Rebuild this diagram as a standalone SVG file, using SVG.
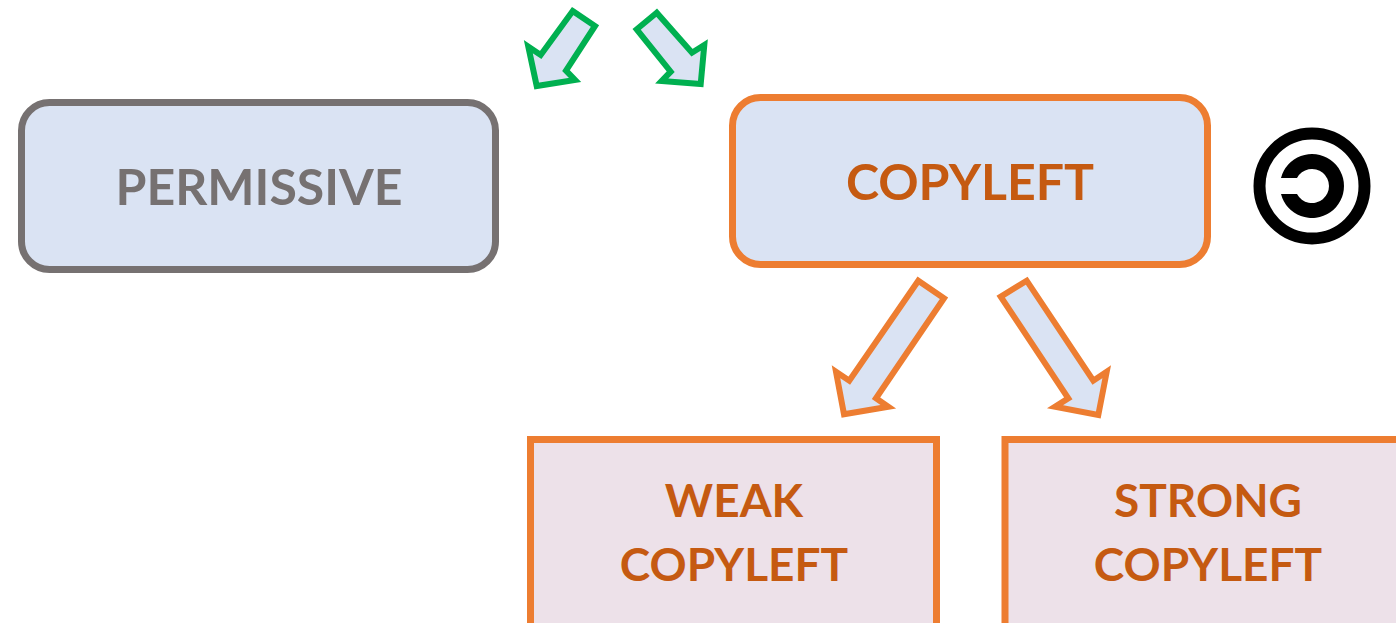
<svg xmlns="http://www.w3.org/2000/svg" width="1396" height="623" viewBox="0 0 1396 623">
<style>
.t{font-family:"Lato","Carlito","Liberation Sans",sans-serif;font-weight:700;text-anchor:middle}
.o{fill:#DAE3F3;stroke:#ED7D31;stroke-width:7}
.a{stroke-width:6;stroke-miterlimit:10;fill:#DAE3F3}
.g{stroke:#00B050}
.r{stroke:#ED7D31}
.w{fill:#EDE1E9;stroke:#ED7D31;stroke-width:7}
.c{fill:#C55A11}
</style>
<rect width="1396" height="623" fill="#fff"/>
<g id="connectors">
<polygon class="a g" points="572.7,11 595,26 566,70.7 575,80 536.7,86 528.3,46.7 540.7,55"/>
<polygon class="a g" points="656.7,12.7 636.7,29.3 670.7,71.7 661.7,81 700.7,84 704.3,45 692,52.7"/>
<polygon class="a r" points="918.3,280.7 944,298.3 876,398.3 888.3,406.7 844,414.3 836,371.7 849.3,380.7"/>
<polygon class="a r" points="1026.7,280.7 1000.7,296.7 1068.3,398.3 1055,406.7 1098.3,415 1106.7,371.7 1093.3,380.7"/>
</g>
<g id="permissive">
<rect x="21.500" y="102.500" width="474" height="167" rx="28" fill="#DAE3F3" stroke="#767171" stroke-width="7"/>
<text class="t" x="259" y="205" font-size="50" fill="#767171">PERMISSIVE</text>
</g>
<g id="copyleft">
<rect class="o" x="732.500" y="97.500" width="475" height="167" rx="28"/>
<text class="t c" x="970" y="200" font-size="50">COPYLEFT</text>
</g>
<g id="copyleft-symbol">
<circle cx="1312" cy="186" r="52.500" fill="none" stroke="#000" stroke-width="12"/>
<path d="M1281,178 A32 32 0 1 1 1281,194 L1297,194 A17 17 0 1 0 1297,178 Z" fill="#000"/>
</g>
<g id="weak">
<rect class="w" x="530.500" y="439.500" width="406" height="190"/>
<text class="t c" x="734" y="517" font-size="46">WEAK</text>
<text class="t c" x="734" y="581" font-size="46">COPYLEFT</text>
</g>
<g id="strong">
<rect class="w" x="1005" y="439.500" width="406" height="190"/>
<text class="t c" x="1208" y="517" font-size="46">STRONG</text>
<text class="t c" x="1208" y="581" font-size="46">COPYLEFT</text>
</g>
</svg>
